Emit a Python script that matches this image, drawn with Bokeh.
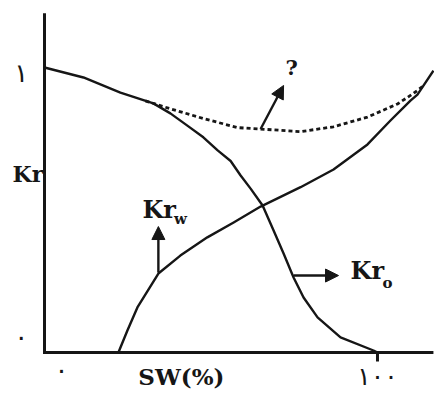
from bokeh.plotting import figure
from bokeh.models import Range1d, Label, Arrow, NormalHead, ColumnDataSource
from bokeh.embed import file_html
from bokeh.resources import INLINE

# Kr_o curve (oil relative permeability)
sw_kro = [0, 11.7, 22.8, 32.7, 37.8, 42.9, 47.7, 52.0, 55.9, 58.9, 61.9, 65.5, 68.8, 71.8, 74.8, 77.8, 82.0, 88.9, 98.8, 100]
kro = [1.0, 0.965, 0.912, 0.874, 0.839, 0.796, 0.755, 0.709, 0.672, 0.621, 0.575, 0.516, 0.428, 0.347, 0.263, 0.193, 0.123, 0.053, 0.007, 0]

# Kr_w curve (water relative permeability)
sw_krw = [22.2, 24.9, 27.9, 34.2, 40.8, 48.9, 56.8, 64.9, 76.9, 86.8, 97.0, 103.9, 109.9, 112.0, 116.8]
krw = [0, 0.077, 0.158, 0.277, 0.340, 0.404, 0.456, 0.512, 0.580, 0.642, 0.730, 0.814, 0.884, 0.905, 0.989]

# dashed "?" curve
sw_sum = [30.3, 37.8, 47.7, 58.0, 64.9, 76.9, 86.8, 97.0, 106.0, 110.8, 113.5]
k_sum = [0.883, 0.855, 0.821, 0.789, 0.784, 0.775, 0.792, 0.826, 0.872, 0.909, 0.933]

# pointer arrows: Kr_w, Kr_o, ?
arrow_x0 = [34.2, 74.8, 64.9]
arrow_y0 = [0.281, 0.270, 0.784]
arrow_x1 = [34.2, 88.3, 71.8]
arrow_y1 = [0.442, 0.270, 0.937]

# axes (extent of the drawn axis lines) and the single tick at SW = 100
axis_x = [0, 0, 116.8]
axis_y = [1.19, 0, 0]
tick_x = [100]
tick_len = 0.032

# tick labels
y_tick_values = [0.053, 0.982]
y_tick_texts = ["۰", "۱"]
x_tick_values = [5.1, 100]
x_tick_texts = ["۰", "۱۰۰"]

INK = "#161616"
SERIF = "DejaVu Serif"
DIGITS = "DejaVu Sans"

p = figure(width=434, height=392, output_backend="svg", toolbar_location=None,
           x_range=Range1d(-13.21, 117.12), y_range=Range1d(-0.1404, 1.2351),
           min_border=0)
p.outline_line_color = None
p.axis.visible = False
p.xgrid.visible = False
p.ygrid.visible = False
p.background_fill_color = "white"

# axis lines and tick
p.line(axis_x, axis_y, line_color=INK, line_width=3, line_join="miter")
p.segment(x0=tick_x, y0=[0] * len(tick_x), x1=tick_x, y1=[-tick_len] * len(tick_x),
          line_color=INK, line_width=3)

# curves
p.line(sw_kro, kro, line_color=INK, line_width=2.4, line_join="round")
p.line(sw_krw, krw, line_color=INK, line_width=2.4, line_join="round")
p.line(sw_sum, k_sum, line_color=INK, line_width=2.8, line_dash="4 3")

src = ColumnDataSource(dict(x0=arrow_x0, y0=arrow_y0, x1=arrow_x1, y1=arrow_y1))
p.add_layout(Arrow(x_start="x0", y_start="y0", x_end="x1", y_end="y1", source=src,
                   line_color=INK, line_width=2.4,
                   end=NormalHead(size=13, fill_color=INK, line_color=INK, line_width=1)))


def lab(x, y, text, size, font=SERIF, style="bold", align="left"):
    p.add_layout(Label(x=x, y=y, text=text,
                       text_font=font, text_font_style=style, text_font_size=size,
                       text_color=INK, text_align=align, text_baseline="middle"))


# tick labels
for v, t in zip(y_tick_values, y_tick_texts):
    lab(-7.0, v, t, "26px", font=DIGITS, style="normal", align="center")
lab(x_tick_values[0], -0.063, x_tick_texts[0], "26px", font=DIGITS, style="normal", align="center")
lab(x_tick_values[1], -0.086, x_tick_texts[1], "25px", font=DIGITS, style="normal", align="center")

# axis titles
lab(-9.6, 0.625, "Kr", "22px")
lab(41.1, -0.086, "SW(%)", "23px", align="center")

# curve labels
lab(29.4, 0.502, "Kr", "24px")
lab(38.9, 0.468, "w", "15px")
lab(91.9, 0.288, "Kr", "24px")
lab(101.5, 0.245, "o", "15px")
lab(74.2, 1.0, "?", "21px", align="center")

open("out.html", "w").write(file_html(p, INLINE))
